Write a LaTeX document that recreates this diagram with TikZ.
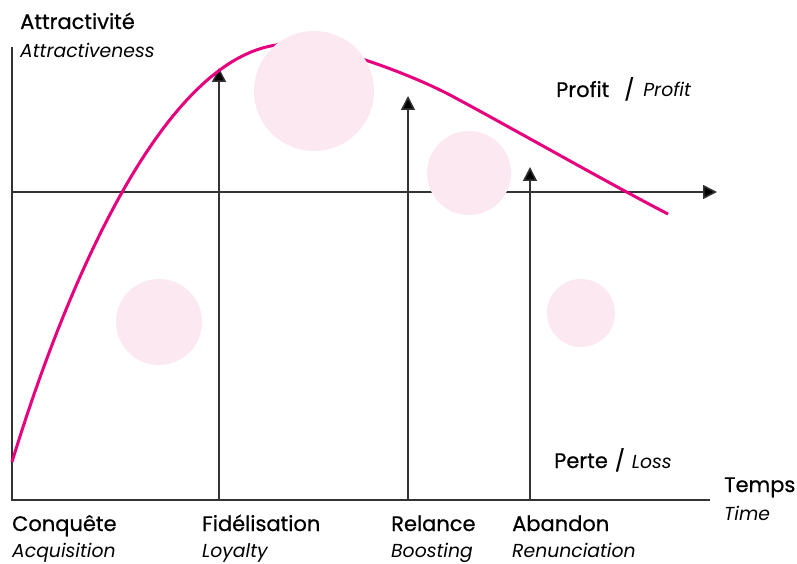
\documentclass[tikz,border=0pt]{standalone}
\usepackage{fontspec}
\setmainfont{Poppins}
\newfontfamily\medfont{Poppins}[FakeBold=0.6]
\usetikzlibrary{arrows.meta}
\definecolor{curvemag}{HTML}{E6007E}
\definecolor{bubble}{HTML}{FCE8F1}
\definecolor{axisgrey}{HTML}{333333}
\newcommand{\itlbl}{\normalfont\fontsize{18.8}{22}\selectfont\itshape}
\tikzset{
  axisline/.style={draw=axisgrey, line width=1.5pt},
  tip/.style={-{Triangle[length=14pt,width=14pt,fill=black]}},
  uparrow/.style={axisline, tip},
  bub/.style={fill=bubble, draw=none},
  mainlbl/.style={anchor=base west, inner sep=0pt, font=\medfont\fontsize{21}{24}\selectfont},
  sublbl/.style={anchor=base west, inner sep=0pt, font=\itlbl},
}
\begin{document}
\begin{tikzpicture}[x=1pt,y=-1pt]
\useasboundingbox (0,0) rectangle (797,564);
% coordinates
\coordinate (o) at (12,500);
\coordinate (ytop) at (12,47);
\coordinate (xend) at (710,500);
\coordinate (m0) at (12,192);
\coordinate (m1) at (717,192);
\coordinate (a1b) at (219,500);
\coordinate (a1t) at (219,68);
\coordinate (a2b) at (408,500);
\coordinate (a2t) at (408,96);
\coordinate (a3b) at (530,500);
\coordinate (a3t) at (530,167);
\coordinate (c0) at (12,462);
\coordinate (c1) at (290,44);
\coordinate (c2) at (450,95);
\coordinate (c3) at (668,214);
% axes
\draw[axisline] (ytop) -- (o) -- (xend);
\draw[axisline, tip] (m0) -- (m1);
\draw[uparrow] (a1b) -- (a1t);
\draw[uparrow] (a2b) -- (a2t);
\draw[uparrow] (a3b) -- (a3t);
% curve
\draw[curvemag, line width=3pt]
  (c0) .. controls (57,314) and (160,44) .. (c1)
       .. controls (330,44) and (410,74) .. (c2)
       .. controls (510,127) and (608,183) .. (c3);
% bubbles (on top)
\fill[bub] (314,91) circle (60);
\fill[bub] (469,173) circle (42);
\fill[bub] (159,322) circle (43);
\fill[bub] (581,313) circle (34);
% labels
\node[mainlbl] (ya) at (20,29) {Attractivité};
\node[sublbl] (yb) at (20,58) {Attractiveness};
\node[mainlbl] (pr) at (556,97) {Profit\hspace{15pt}/\hspace{9pt}{\itlbl Profit}};
\node[mainlbl] (pe) at (554,468) {Perte\hspace{7pt}/\hspace{7pt}{\itlbl Loss}};
\node[mainlbl] (ta) at (724,492) {Temps};
\node[sublbl] (tb) at (724,520) {Time};
\node[mainlbl] (k1) at (12,531) {Conquête};
\node[sublbl] (k2) at (12,557) {Acquisition};
\node[mainlbl] (f1) at (202,531) {Fidélisation};
\node[sublbl] (f2) at (202,557) {Loyalty};
\node[mainlbl] (r1) at (391,531) {Relance};
\node[sublbl] (r2) at (391,557) {Boosting};
\node[mainlbl] (b1) at (512,531) {Abandon};
\node[sublbl] (b2) at (512,557) {Renunciation};
\end{tikzpicture}
\end{document}
